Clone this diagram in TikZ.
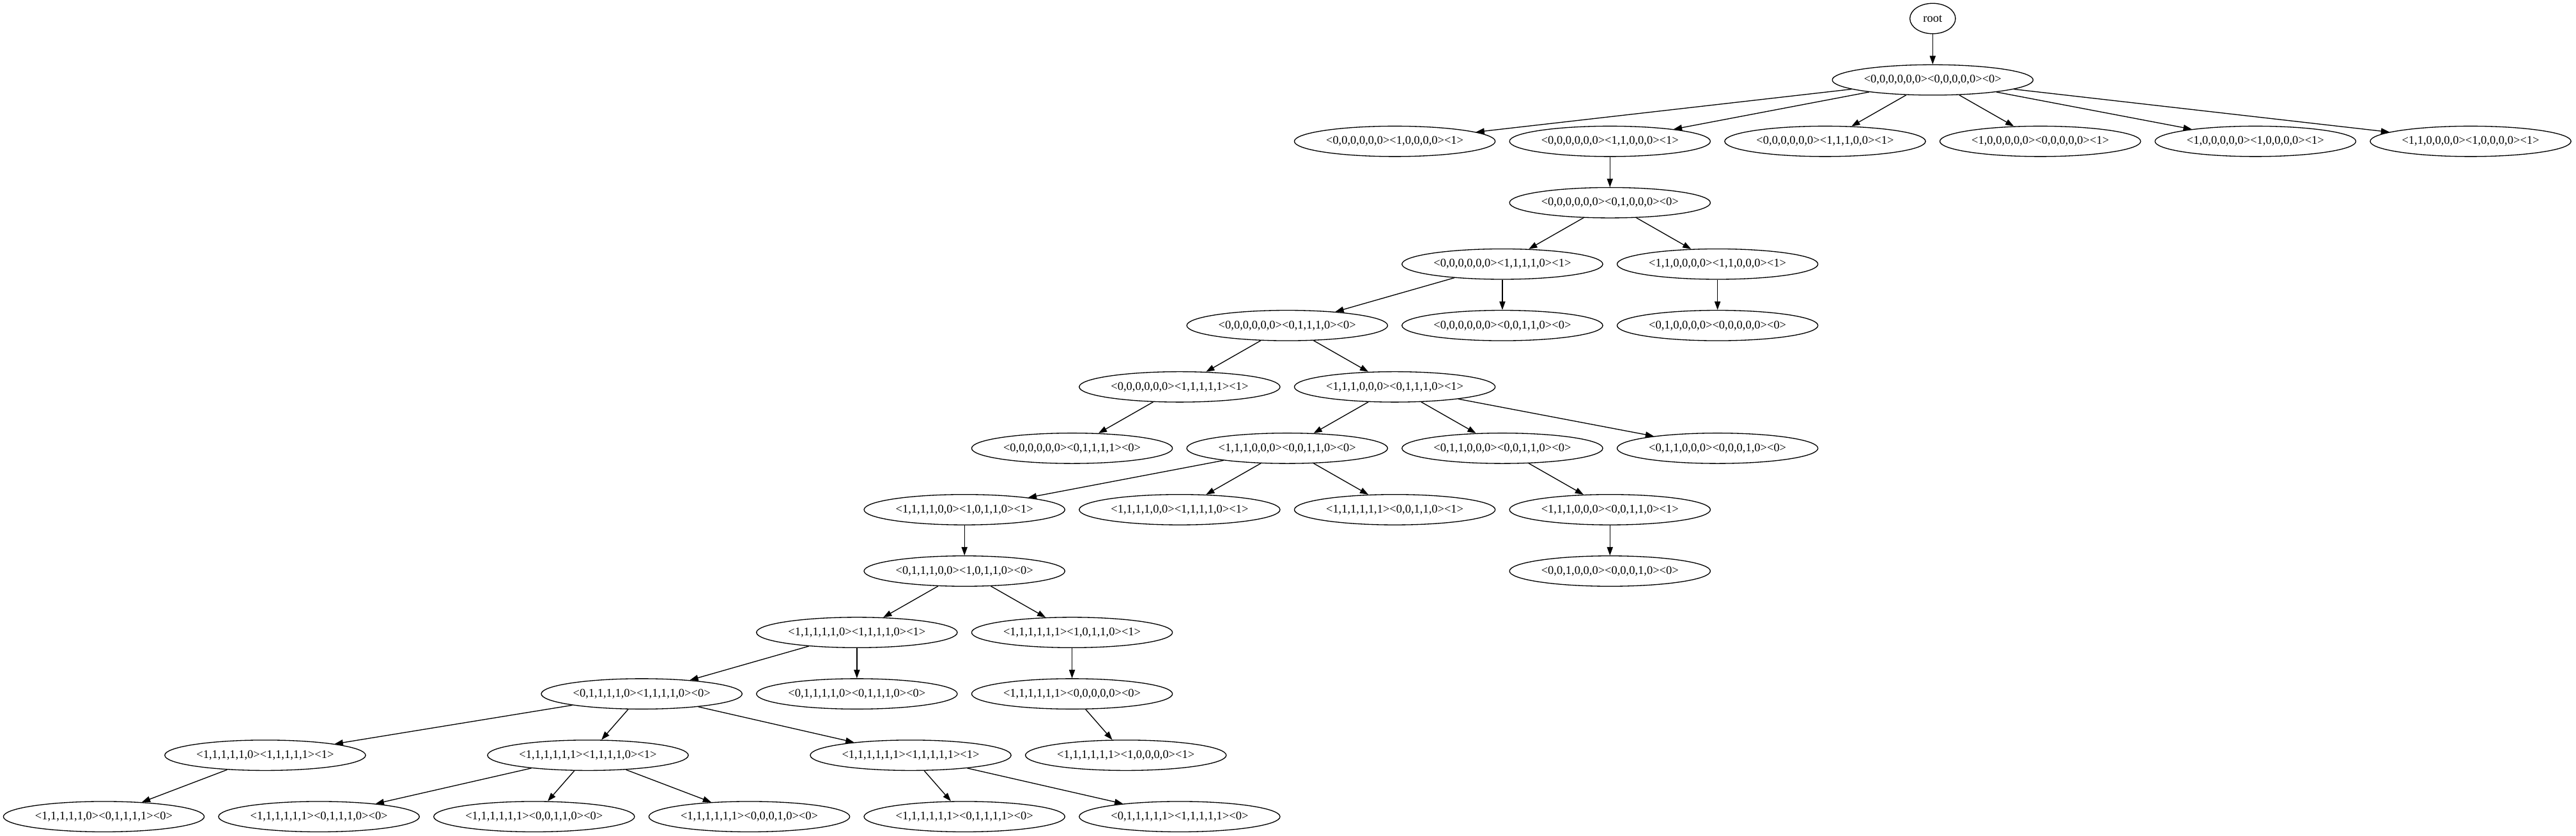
\documentclass[tikz,border=0pt]{standalone}
\usepackage{fontspec}
\setmainfont{Liberation Serif}
\usepackage{tikz}
\definecolor{white}{rgb}{1.0, 1.0, 1.0}
\definecolor{black}{rgb}{0.0, 0.0, 0.0}
\usetikzlibrary{arrows.meta}
\usetikzlibrary{shapes.geometric}
\pgfdeclarelayer{edgelayer}
\pgfdeclarelayer{nodelayer}
\pgfsetlayers{edgelayer,nodelayer,main}
\tikzstyle{vertex}=[ellipse,fill=white,draw=black,line width=1pt,inner xsep=0pt,minimum width=238pt,minimum height=36pt,font=\fontsize{14pt}{16pt}\selectfont]
\tikzstyle{start}=[vertex,minimum width=54pt]
\tikzstyle{link}=[-{Triangle[length=10pt,width=7pt]},line width=1pt,draw=black]

\begin{document}
\begin{tikzpicture}[x=127.5pt,y=-72.75pt]
        \useasboundingbox (-0.965,-0.302) rectangle (22.98,13.306);
        \begin{pgfonlayer}{nodelayer}
            \node [style = start] (root) at (17, 0) {root};
            \node [style = vertex] (a) at (17, 1) {<0,0,0,0,0,0><0,0,0,0,0><0>};
            \node [style = vertex] (b1) at (12, 2) {<0,0,0,0,0,0><1,0,0,0,0><1>};
            \node [style = vertex] (b2) at (14, 2) {<0,0,0,0,0,0><1,1,0,0,0><1>};
            \node [style = vertex] (b3) at (16, 2) {<0,0,0,0,0,0><1,1,1,0,0><1>};
            \node [style = vertex] (b4) at (18, 2) {<1,0,0,0,0,0><0,0,0,0,0><1>};
            \node [style = vertex] (b5) at (20, 2) {<1,0,0,0,0,0><1,0,0,0,0><1>};
            \node [style = vertex] (b6) at (22, 2) {<1,1,0,0,0,0><1,0,0,0,0><1>};
            \node [style = vertex] (c1) at (14, 3) {<0,0,0,0,0,0><0,1,0,0,0><0>};
            \node [style = vertex] (d1) at (13, 4) {<0,0,0,0,0,0><1,1,1,1,0><1>};
            \node [style = vertex] (d2) at (15, 4) {<1,1,0,0,0,0><1,1,0,0,0><1>};
            \node [style = vertex] (e1) at (11, 5) {<0,0,0,0,0,0><0,1,1,1,0><0>};
            \node [style = vertex] (e2) at (13, 5) {<0,0,0,0,0,0><0,0,1,1,0><0>};
            \node [style = vertex] (e3) at (15, 5) {<0,1,0,0,0,0><0,0,0,0,0><0>};
            \node [style = vertex] (f1) at (10, 6) {<0,0,0,0,0,0><1,1,1,1,1><1>};
            \node [style = vertex] (f2) at (12, 6) {<1,1,1,0,0,0><0,1,1,1,0><1>};
            \node [style = vertex] (g1) at (9, 7) {<0,0,0,0,0,0><0,1,1,1,1><0>};
            \node [style = vertex] (g2) at (11, 7) {<1,1,1,0,0,0><0,0,1,1,0><0>};
            \node [style = vertex] (g3) at (13, 7) {<0,1,1,0,0,0><0,0,1,1,0><0>};
            \node [style = vertex] (g4) at (15, 7) {<0,1,1,0,0,0><0,0,0,1,0><0>};
            \node [style = vertex] (h1) at (8, 8) {<1,1,1,1,0,0><1,0,1,1,0><1>};
            \node [style = vertex] (h2) at (10, 8) {<1,1,1,1,0,0><1,1,1,1,0><1>};
            \node [style = vertex] (h3) at (12, 8) {<1,1,1,1,1,1><0,0,1,1,0><1>};
            \node [style = vertex] (h4) at (14, 8) {<1,1,1,0,0,0><0,0,1,1,0><1>};
            \node [style = vertex] (i1) at (8, 9) {<0,1,1,1,0,0><1,0,1,1,0><0>};
            \node [style = vertex] (i2) at (14, 9) {<0,0,1,0,0,0><0,0,0,1,0><0>};
            \node [style = vertex] (j1) at (7, 10) {<1,1,1,1,1,0><1,1,1,1,0><1>};
            \node [style = vertex] (j2) at (9, 10) {<1,1,1,1,1,1><1,0,1,1,0><1>};
            \node [style = vertex] (k1) at (5, 11) {<0,1,1,1,1,0><1,1,1,1,0><0>};
            \node [style = vertex] (k2) at (7, 11) {<0,1,1,1,1,0><0,1,1,1,0><0>};
            \node [style = vertex] (k3) at (9, 11) {<1,1,1,1,1,1><0,0,0,0,0><0>};
            \node [style = vertex] (l1) at (1.5, 12) {<1,1,1,1,1,0><1,1,1,1,1><1>};
            \node [style = vertex] (l2) at (4.5, 12) {<1,1,1,1,1,1><1,1,1,1,0><1>};
            \node [style = vertex] (l3) at (7.5, 12) {<1,1,1,1,1,1><1,1,1,1,1><1>};
            \node [style = vertex] (l4) at (9.5, 12) {<1,1,1,1,1,1><1,0,0,0,0><1>};
            \node [style = vertex] (m1) at (0, 13) {<1,1,1,1,1,0><0,1,1,1,1><0>};
            \node [style = vertex] (m2) at (2, 13) {<1,1,1,1,1,1><0,1,1,1,0><0>};
            \node [style = vertex] (m3) at (4, 13) {<1,1,1,1,1,1><0,0,1,1,0><0>};
            \node [style = vertex] (m4) at (6, 13) {<1,1,1,1,1,1><0,0,0,1,0><0>};
            \node [style = vertex] (m5) at (8, 13) {<1,1,1,1,1,1><0,1,1,1,1><0>};
            \node [style = vertex] (m6) at (10, 13) {<0,1,1,1,1,1><1,1,1,1,1><0>};
        \end{pgfonlayer}

        \begin{pgfonlayer}{edgelayer}
            \draw [style = link] (root) to (a);
            \foreach \n in {b1,b2,b3,b4,b5,b6}
                \draw [style = link] (a) to (\n);
            \draw [style = link] (b2) to (c1);
            \draw [style = link] (c1) to (d1);
            \draw [style = link] (c1) to (d2);
            \draw [style = link] (d1) to (e1);
            \draw [style = link] (d1) to (e2);
            \draw [style = link] (d2) to (e3);
            \draw [style = link] (e1) to (f1);
            \draw [style = link] (e1) to (f2);
            \draw [style = link] (f1) to (g1);
            \draw [style = link] (f2) to (g2);
            \draw [style = link] (f2) to (g3);
            \draw [style = link] (f2) to (g4);
            \draw [style = link] (g2) to (h1);
            \draw [style = link] (g2) to (h2);
            \draw [style = link] (g2) to (h3);
            \draw [style = link] (g3) to (h4);
            \draw [style = link] (h1) to (i1);
            \draw [style = link] (h4) to (i2);
            \draw [style = link] (i1) to (j1);
            \draw [style = link] (i1) to (j2);
            \draw [style = link] (j1) to (k1);
            \draw [style = link] (j1) to (k2);
            \draw [style = link] (j2) to (k3);
            \draw [style = link] (k1) to (l1);
            \draw [style = link] (k1) to (l2);
            \draw [style = link] (k1) to (l3);
            \draw [style = link] (k3) to (l4);
            \draw [style = link] (l1) to (m1);
            \draw [style = link] (l2) to (m2);
            \draw [style = link] (l2) to (m3);
            \draw [style = link] (l2) to (m4);
            \draw [style = link] (l3) to (m5);
            \draw [style = link] (l3) to (m6);
        \end{pgfonlayer}
    \end{tikzpicture}
\end{document}
